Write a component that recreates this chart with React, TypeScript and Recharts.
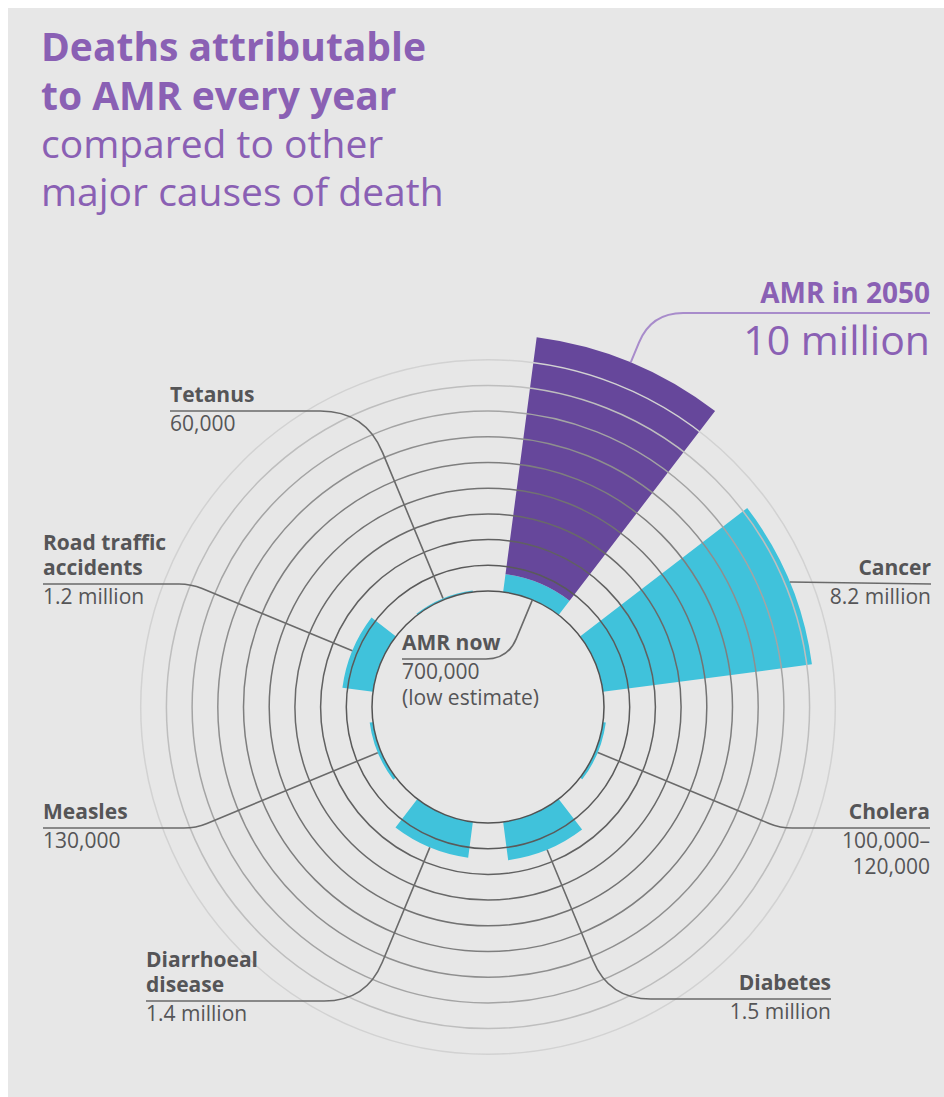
import React from "react";
import {
  RadialBarChart,
  RadialBar,
  PolarAngleAxis,
  PolarRadiusAxis,
  LabelList,
} from "recharts";

// deaths per year, in millions
const causes = [
  "AMR",
  "Cancer",
  "Cholera",
  "Diabetes",
  "Diarrhoeal disease",
  "Measles",
  "Road traffic accidents",
  "Tetanus",
];
const deathsNow = [0.7, 8.2, 0.11, 1.5, 1.4, 0.13, 1.2, 0.06];
const deaths2050 = [10, 0, 0, 0, 0, 0, 0, 0];
const ringTicks = [0, 1, 2, 3, 4, 5, 6, 7, 8, 9];

const nameLines = [
  ["AMR now"],
  ["Cancer"],
  ["Cholera"],
  ["Diabetes"],
  ["Diarrhoeal", "disease"],
  ["Measles"],
  ["Road traffic", "accidents"],
  ["Tetanus"],
];
const valueLines = [
  ["700,000", "(low estimate)"],
  ["8.2 million"],
  ["100,000–", "120,000"],
  ["1.5 million"],
  ["1.4 million"],
  ["130,000"],
  ["1.2 million"],
  ["60,000"],
];
const futureName = "AMR in 2050";
const futureValue = "10 million";

// label placement: rule y, text edge x, side, corner radius of the leader
const labelLayout = [
  { y: 659, x: 402, side: "left", corner: 22, inward: true },
  { y: 584, x: 931, side: "right", corner: 10, inward: false },
  { y: 828, x: 930, side: "right", corner: 12, inward: false },
  { y: 999, x: 831, side: "right", corner: 42, inward: false },
  { y: 1001, x: 146, side: "left", corner: 42, inward: false },
  { y: 828, x: 43, side: "left", corner: 12, inward: false },
  { y: 584, x: 43, side: "left", corner: 12, inward: false },
  { y: 411, x: 170, side: "left", corner: 45, inward: false },
];
const futureLayout = { y: 313, x: 930, side: "right", corner: 32, inward: false };

const W = 944;
const H = 1097;
const CX = 488;
const CY = 707;
const INNER = 116;
const OUTER = 373;

const BG = "#e7e7e7";
const CYAN = "#40c2db";
const PURPLE = "#66479b";
const TITLE = "#8a60b4";
const TEXT = "#555557";
const LEADER = "#6a6a6a";
const RING_COLORS = [
  "#525252",
  "#5a5a5a",
  "#616161",
  "#696969",
  "#727272",
  "#7e7e7e",
  "#8e8e8e",
  "#a4a4a4",
  "#bebebe",
  "#d2d2d2",
];
const FONT = "'Open Sans', 'Noto Sans', sans-serif";

const data = causes.map((name, i) => ({
  name,
  now: deathsNow[i],
  future: deaths2050[i] > 0 ? deaths2050[i] - deathsNow[i] : 0,
}));

const RAD = Math.PI / 180;
const polar = (cx: number, cy: number, r: number, a: number) => ({
  x: cx + r * Math.cos(-a * RAD),
  y: cy + r * Math.sin(-a * RAD),
});

function leaderPath(
  cx: number,
  cy: number,
  r: number,
  angle: number,
  inward: boolean,
  yH: number,
  xEnd: number,
  corner: number
) {
  const s = polar(cx, cy, r, angle);
  let dx = Math.cos(-angle * RAD);
  let dy = Math.sin(-angle * RAD);
  if (inward) {
    dx = -dx;
    dy = -dy;
  }
  const t = (yH - s.y) / dy;
  if (!(t > corner)) return `M${s.x},${s.y}L${xEnd},${yH}`;
  const px = s.x + dx * t;
  const h = Math.sign(xEnd - px);
  return `M${s.x},${s.y}L${px - dx * corner},${yH - dy * corner}Q${px},${yH} ${
    px + h * corner
  },${yH}L${xEnd},${yH}`;
}

const RingTick = (props: any) => {
  const { x, y, index } = props;
  const r = Math.hypot(x - CX, y - CY);
  return (
    <circle
      cx={CX}
      cy={CY}
      r={r}
      fill="none"
      stroke={RING_COLORS[index] || RING_COLORS[0]}
      strokeWidth={1.5}
    />
  );
};

const NowLabel = (props: any) => {
  const { viewBox, index } = props;
  if (!viewBox || index == null) return null;
  const lay = labelLayout[index];
  const mid = (viewBox.startAngle + viewBox.endAngle) / 2;
  const r = lay.inward ? viewBox.innerRadius : viewBox.outerRadius;
  const anchor = lay.side === "left" ? "start" : "end";
  const names = nameLines[index];
  const values = valueLines[index];
  return (
    <g>
      <path
        d={leaderPath(viewBox.cx, viewBox.cy, r, mid, lay.inward, lay.y, lay.x, lay.corner)}
        fill="none"
        stroke={LEADER}
        strokeWidth={1.6}
      />
      <text
        x={lay.x}
        y={lay.y - 9 - (names.length - 1) * 25}
        textAnchor={anchor}
        fontFamily={FONT}
        fontWeight={700}
        fontSize={21}
        fill={TEXT}
      >
        {names.map((t, i) => (
          <tspan key={i} x={lay.x} dy={i === 0 ? 0 : 25}>
            {t}
          </tspan>
        ))}
      </text>
      <text
        x={lay.x}
        y={lay.y + 20}
        textAnchor={anchor}
        fontFamily={FONT}
        fontSize={21}
        fill={TEXT}
      >
        {values.map((t, i) => (
          <tspan key={i} x={lay.x} dy={i === 0 ? 0 : 26}>
            {t}
          </tspan>
        ))}
      </text>
    </g>
  );
};

const FutureLabel = (props: any) => {
  const { viewBox, index } = props;
  if (!viewBox || index !== 0) return null;
  const lay = futureLayout;
  const mid = (viewBox.startAngle + viewBox.endAngle) / 2;
  return (
    <g>
      <path
        d={leaderPath(
          viewBox.cx,
          viewBox.cy,
          viewBox.outerRadius,
          mid,
          false,
          lay.y,
          lay.x,
          lay.corner
        )}
        fill="none"
        stroke="#a88ccb"
        strokeWidth={2}
      />
      <text
        x={lay.x}
        y={lay.y - 10}
        textAnchor="end"
        fontFamily={FONT}
        fontWeight={700}
        fontSize={28}
        fill={TITLE}
      >
        {futureName}
      </text>
      <text
        x={lay.x}
        y={lay.y + 42}
        textAnchor="end"
        fontFamily={FONT}
        fontSize={41}
        fill={TITLE}
      >
        {futureValue}
      </text>
    </g>
  );
};

export default function App() {
  return (
    <div style={{ position: "absolute", left: 0, top: 0, width: W, height: H }}>
      <div
        style={{
          position: "absolute",
          left: 8,
          top: 8,
          width: W - 8,
          height: H - 8,
          background: BG,
        }}
      />
      <svg
        width={W}
        height={230}
        style={{ position: "absolute", left: 0, top: 0 }}
      >
        <text x={41} y={61} fontFamily={FONT} fontWeight={700} fontSize={39} fill={TITLE}>
          Deaths attributable
        </text>
        <text x={41} y={110} fontFamily={FONT} fontWeight={700} fontSize={39} fill={TITLE}>
          to AMR every year
        </text>
        <text x={41} y={158} fontFamily={FONT} fontSize={39} fill={TITLE}>
          compared to other
        </text>
        <text x={41} y={206} fontFamily={FONT} fontSize={39} fill={TITLE}>
          major causes of death
        </text>
      </svg>
      <div style={{ position: "absolute", left: 0, top: 0 }}>
        <RadialBarChart
          width={W}
          height={H}
          data={data}
          layout="centric"
          cx={CX}
          cy={CY}
          innerRadius={INNER}
          outerRadius={OUTER}
          startAngle={45}
          endAngle={-315}
          barCategoryGap="16.667%"
          margin={{ top: 0, right: 0, bottom: 0, left: 0 }}
        >
          <PolarAngleAxis
            type="category"
            dataKey="name"
            tick={false}
            tickLine={false}
            axisLine={false}
          />
          <RadialBar
            dataKey="now"
            stackId="deaths"
            fill={CYAN}
            isAnimationActive={false}
          >
            <LabelList dataKey="now" content={NowLabel} />
          </RadialBar>
          <RadialBar
            dataKey="future"
            stackId="deaths"
            fill={PURPLE}
            isAnimationActive={false}
          >
            <LabelList dataKey="future" content={FutureLabel} />
          </RadialBar>
          <PolarRadiusAxis
            type="number"
            domain={[0, 10]}
            angle={90}
            ticks={ringTicks}
            tick={RingTick}
            axisLine={false}
          />
        </RadialBarChart>
      </div>
    </div>
  );
}
